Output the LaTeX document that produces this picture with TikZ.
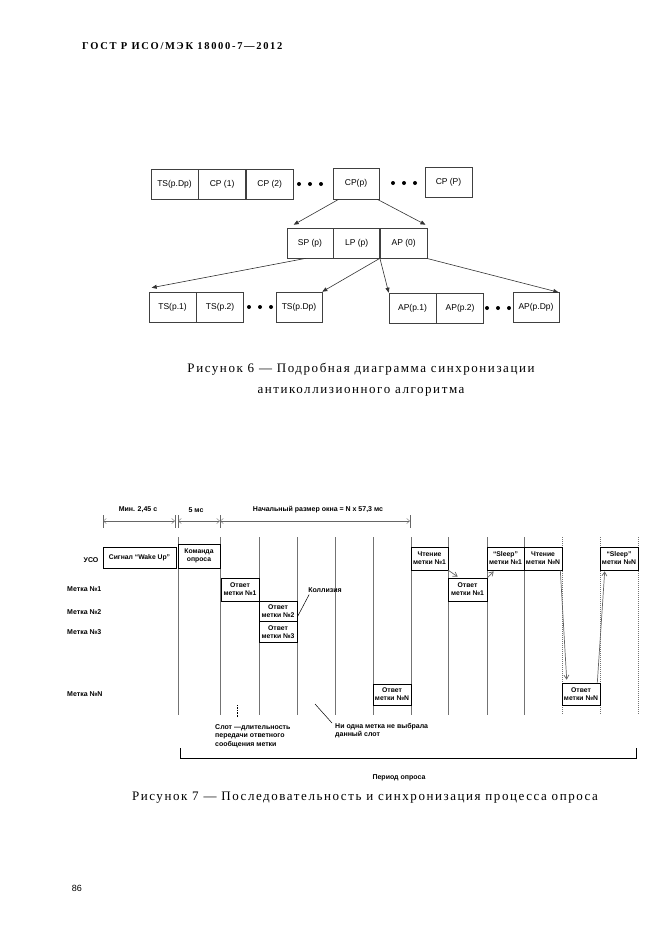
\documentclass[tikz,border=0pt]{standalone}
\usepackage{fontspec}
\setmainfont{Liberation Serif}
\setsansfont{Liberation Sans}
\newfontfamily\capfont[LetterSpace=12]{Liberation Serif}
\newfontfamily\headfont[LetterSpace=16]{Liberation Serif}
\usetikzlibrary{arrows.meta, positioning}

\tikzset{
    cell/.style={draw=black!75, line width=0.6pt, inner sep=0pt, minimum width=47pt, minimum height=30pt, font=\sffamily\fontsize{8.5}{10}\selectfont},
    arrow/.style={-{Triangle[width=4pt,length=5pt]}, line width=0.6pt, black!80},
    tbox/.style={draw, fill=white, line width=0.6pt, inner sep=0pt, align=center, font=\sffamily\bfseries\fontsize{6.8}{8}\selectfont},
    slotline/.style={line width=1pt, black!55},
    lbl/.style={font=\sffamily\bfseries\fontsize{7}{8.5}\selectfont, inner sep=0pt, align=left},
    dimline/.style={line width=0.4pt, black!60},
    dimarrow/.style={dimline, {Straight Barb[length=3pt,width=5pt]}-{Straight Barb[length=3pt,width=5pt]}},
    grayarrow/.style={-{Straight Barb[length=4pt,width=5pt]}, line width=0.7pt, black!60}
}

\begin{document}
\begin{tikzpicture}[x=1pt, y=-1pt]
\useasboundingbox (0,0) rectangle (661,935);

% Page header
\node[anchor=west, inner sep=0pt, font=\headfont\bfseries\fontsize{10.5}{12}\selectfont] (header) at (82,46) {ГОСТ Р ИСО/МЭК 18000-7—2012};

% Figure 6: nodes
\node[cell] (tsdp) at (174.5,184.5) {TS(p.Dp)};
\node[cell, right=0pt of tsdp] (cpone) {CP (1)};
\node[cell, right=0pt of cpone] (cptwo) {CP (2)};
\node[cell, minimum width=46pt, minimum height=31pt] (cpp) at (356,183.5) {CP(p)};
\node[cell] (cpbig) at (448.5,182) {CP (P)};

\node[cell, minimum width=46pt] (sp) at (310,243) {SP (p)};
\node[cell, minimum width=46pt, right=0pt of sp] (lp) {LP (p)};
\node[cell, right=0pt of lp] (apzero) {AP (0)};

\node[cell] (tsone) at (172.5,307) {TS(p.1)};
\node[cell, right=0pt of tsone] (tstwo) {TS(p.2)};
\node[cell, minimum width=46pt] (tslast) at (299,307) {TS(p.Dp)};
\node[cell] (apone) at (412.5,308) {AP(p.1)};
\node[cell, right=0pt of apone] (aptwo) {AP(p.2)};
\node[cell, minimum width=46pt] (aplast) at (536,307.5) {AP(p.Dp)};

% dots
\foreach \cx/\cy in {310/184, 404/183, 260/307, 498/308}
    \foreach \d in {-11,0,11}
        \fill ({\cx+\d},\cy) circle (2pt);

% Figure 6: arrows
\draw [arrow] ([xshift=6pt]cpp.south west) -- ([xshift=7pt,yshift=3pt]sp.north west);
\draw [arrow] ([xshift=-2pt]cpp.south east) -- ([xshift=-2pt,yshift=3pt]apzero.north east);
\draw [arrow] ([xshift=-4pt]sp.south) -- ([xshift=3pt,yshift=4pt]tsone.north west);
\draw [arrow] (lp.south east) -- (tslast.north east);
\draw [arrow] (lp.south east) -- (apone.north west);
\draw [arrow] ([xshift=-1pt]apzero.south east) -- ([xshift=-1pt]aplast.north east);

\node[align=center, inner sep=0pt, font=\capfont\fontsize{13}{21}\selectfont] (capsix) at (361,380) {Рисунок 6 — Подробная диаграмма синхронизации\\антиколлизионного алгоритма};

% Figure 7: slot boundaries
\foreach \sx in {178,220,259,297,335,373,411,448,487,524}
    \draw[slotline] (\sx,537) -- (\sx,715);
\foreach \sx in {562,600,638}
    \draw[slotline, densely dotted, line width=0.6pt] (\sx,537) -- (\sx,715);

% time scale
\foreach \tx in {103,175,178,220,410}
    \draw[dimline] (\tx,515) -- (\tx,528);
\draw[dimarrow] (103,521) -- (175,521);
\draw[dimarrow] (178,521) -- (220,521);
\draw[dimarrow] (220,521) -- (410,521);
\node[lbl] (lblmin) at (138,510) {Мин. 2,45 с};
\node[lbl] (lblfive) at (196,510) {5 мс};
\node[lbl] (lblwin) at (318,510) {Начальный размер окна = N x 57,3 мс};

% row labels
\node[lbl] (rdr) at (91,560) {УСО};
\node[lbl, anchor=west] (tagone) at (67,589) {Метка №1};
\node[lbl, anchor=west] (tagtwo) at (67,612) {Метка №2};
\node[lbl, anchor=west] (tagthree) at (67,632) {Метка №3};
\node[lbl, anchor=west] (tagn) at (67,694) {Метка №N};

% boxes
\node[tbox, minimum width=73pt, minimum height=21pt] (wake) at (139.5,557.5) {Сигнал “Wake Up”};
\node[tbox, minimum width=42pt, minimum height=24pt] (cmd) at (199,556) {Команда\\опроса};
\node[tbox, minimum width=38pt, minimum height=23pt] (ansone) at (240,589.5) {Ответ\\метки №1};
\node[tbox, minimum width=38pt, minimum height=20pt] (anstwo) at (278,611) {Ответ\\метки №2};
\node[tbox, minimum width=38pt, minimum height=21pt, below=0pt of anstwo] (ansthree) {Ответ\\метки №3};
\node[tbox, minimum width=38pt, minimum height=21pt] (ansn) at (392,694.5) {Ответ\\метки №N};
\node[tbox, minimum width=37pt, minimum height=23pt] (readone) at (429.5,558.5) {Чтение\\метки №1};
\node[tbox, minimum width=39pt, minimum height=23pt] (ansoneb) at (467.5,589.5) {Ответ\\метки №1};
\node[tbox, minimum width=37pt, minimum height=23pt] (sleepone) at (505.5,558.5) {“Sleep”\\метки №1};
\node[tbox, minimum width=38pt, minimum height=23pt] (readn) at (543,558.5) {Чтение\\метки №N};
\node[tbox, minimum width=38pt, minimum height=22pt] (ansnb) at (581,694) {Ответ\\метки №N};
\node[tbox, minimum width=38pt, minimum height=23pt] (sleepn) at (619,558.5) {“Sleep”\\метки №N};

% arrows between boxes
\draw[grayarrow] (readone.south east) -- ([xshift=10pt,yshift=1pt]ansoneb.north west);
\draw[grayarrow] (ansoneb.north east) -- ([xshift=7pt,yshift=-1pt]sleepone.south west);
\draw[grayarrow] ([xshift=-2pt]readn.south east) -- ([xshift=5pt,yshift=3pt]ansnb.north west);
\draw[grayarrow] ([xshift=-3pt]ansnb.north east) -- ([xshift=5pt,yshift=-1pt]sleepn.south west);

% collision
\node[lbl] (coll) at (325,590) {Коллизия};
\draw[line width=0.5pt] ([xshift=1pt,yshift=-2pt]coll.south west) -- ([yshift=-6pt]anstwo.east);

% notes
\coordinate (slotpt) at (237,705);
\node[lbl, anchor=north west] (slotnote) at (215,724) {Слот —длительность\\передачи ответного\\сообщения метки};
\draw[densely dotted, line width=0.6pt] ([xshift=22pt,yshift=7pt]slotnote.north west) -- (slotpt);
\coordinate (emptypt) at (315,704);
\node[lbl, anchor=north west] (emptynote) at (335,723) {Ни одна метка не выбрала\\данный слот};
\draw[line width=0.5pt] (emptypt) -- ([xshift=-3pt]emptynote.north west);

% polling period
\draw[line width=0.6pt] (180,748) |- (636,758) -- (636,748);
\node[lbl] (period) at (399,778) {Период опроса};

\node[inner sep=0pt, font=\capfont\fontsize{13}{15}\selectfont] (capseven) at (365,798) {Рисунок 7 — Последовательность и синхронизация процесса опроса};

% page number
\node[inner sep=0pt, font=\sffamily\fontsize{9}{10}\selectfont] (pagenum) at (77,888) {86};
\end{tikzpicture}
\end{document}
